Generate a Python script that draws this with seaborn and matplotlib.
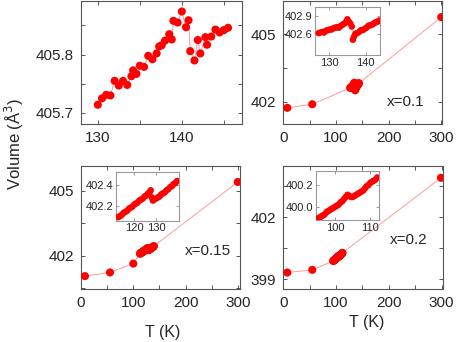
import matplotlib
matplotlib.use('Agg')
import matplotlib.pyplot as plt
import seaborn as sns
import numpy as np
from matplotlib.ticker import MultipleLocator, FixedLocator, FormatStrFormatter

# --- datos ---
# panel superior izquierdo (zoom 130-146 K)
t_x0 = [130.0, 130.5, 131.0, 131.5, 132.0, 132.5, 133.0, 133.5, 134.0, 134.2,
        134.6, 135.0, 135.5, 136.0, 136.5, 137.0, 137.3, 137.6, 138.0, 138.5,
        138.8, 139.0, 139.5, 140.0, 140.5, 140.8, 141.0, 141.5, 141.9, 142.2,
        142.8, 143.0, 143.5, 144.0, 144.5, 145.0, 145.5]
v_x0 = [405.714, 405.725, 405.731, 405.730, 405.755, 405.747, 405.755, 405.748,
        405.763, 405.773, 405.767, 405.781, 405.779, 405.798, 405.792, 405.802,
        405.814, 405.816, 405.824, 405.835, 405.826, 405.858, 405.855, 405.874,
        405.847, 405.859, 405.806, 405.790, 405.825, 405.802, 405.830, 405.817,
        405.831, 405.843, 405.838, 405.842, 405.846]

# x=0.1
t_01_ins = [127.2, 127.7, 128.2, 128.7, 129.2, 129.7, 130.2, 130.7, 131.2, 131.7,
            132.2, 132.7, 133.2, 133.7, 134.2, 134.7, 135.0, 135.4, 135.8, 136.2,
            136.5, 136.8, 137.2, 137.7, 138.2, 138.7, 139.2, 139.7, 140.2, 140.7,
            141.2, 141.7, 142.2, 142.7, 143.2, 143.7]
v_01_ins = [402.61, 402.62, 402.63, 402.62, 402.65, 402.66, 402.67, 402.67, 402.69, 402.70,
            402.71, 402.70, 402.73, 402.75, 402.77, 402.80, 402.84, 402.80, 402.77, 402.72,
            402.50, 402.55, 402.60, 402.61, 402.63, 402.66, 402.66, 402.68, 402.70, 402.73,
            402.74, 402.75, 402.77, 402.79, 402.80, 402.82]
t_01_low, v_01_low = [7.6, 55.0], [401.72, 401.88]
t_01_rt, v_01_rt = [300.0], [405.76]

# x=0.15
t_015_ins = [112.7, 113.4, 114.2, 115.0, 115.8, 116.6, 117.4, 118.2, 119.0, 119.8,
             120.6, 121.4, 122.2, 123.0, 123.8, 124.6, 125.4, 126.2, 126.9, 127.4,
             127.9, 128.4, 129.0, 129.8, 130.6, 131.4, 132.2, 133.0, 133.8, 134.6,
             135.4, 136.2, 137.0, 137.8, 138.6, 139.4]
v_015_ins = [402.09, 402.10, 402.11, 402.13, 402.14, 402.15, 402.17, 402.18, 402.19, 402.21,
             402.22, 402.23, 402.25, 402.26, 402.27, 402.29, 402.30, 402.32, 402.33, 402.35,
             402.28, 402.25, 402.26, 402.27, 402.28, 402.29, 402.31, 402.32, 402.33, 402.35,
             402.36, 402.38, 402.39, 402.41, 402.42, 402.44]
t_015_low, v_015_low = [7.6, 55.4, 100.0], [401.05, 401.22, 401.63]
t_015_rt, v_015_rt = [299.6], [405.41]

# x=0.2
t_02_ins = [94.6, 95.1, 95.6, 96.1, 96.6, 97.1, 97.6, 98.1, 98.6, 99.1,
            99.6, 100.1, 100.6, 101.1, 101.6, 102.1, 102.6, 103.1, 103.6, 104.1,
            104.6, 105.1, 105.6, 106.1, 106.6, 107.1, 107.6, 108.1, 108.6, 109.1,
            109.6, 110.1, 110.6, 111.1, 111.6, 112.1]
v_02_ins = [399.88, 399.89, 399.90, 399.91, 399.92, 399.93, 399.95, 399.96, 399.97, 399.98,
            399.99, 400.00, 400.01, 400.02, 400.04, 400.05, 400.07, 400.09, 400.11, 400.10,
            400.09, 400.09, 400.10, 400.11, 400.12, 400.13, 400.14, 400.15, 400.17, 400.19,
            400.20, 400.22, 400.23, 400.24, 400.25, 400.27]
t_02_low, v_02_low = [7.6, 55.0], [399.32, 399.45]
t_02_rt, v_02_rt = [298.7], [403.90]

sns.set_style('ticks')
plt.rcParams['font.family'] = ['Liberation Sans', 'DejaVu Sans']

W, H = 458, 342
fig = plt.figure(figsize=(W / 100, H / 100), dpi=100)


def caja(x0, y0, x1, y1):
    # pixeles -> coordenadas de figura
    return [x0 / W, 1 - y1 / H, (x1 - x0) / W, (y1 - y0) / H]


ROJO = '#ff0000'
LINEA = '#ff9a9a'
GRIS = '#555555'


def dibujar(ax, t, v, s, lw=0.7):
    sns.lineplot(x=t, y=v, ax=ax, color=LINEA, lw=lw, sort=False, estimator=None)
    sns.scatterplot(x=t, y=v, ax=ax, color=ROJO, s=s, edgecolor='none', zorder=3)


def estilo(ax, fs, pad, color, length=3):
    ax.tick_params(which='both', direction='in', top=True, right=True,
                   length=length, width=0.7, color=color, labelsize=fs, pad=pad)
    for sp in ax.spines.values():
        sp.set_color(color)
        sp.set_linewidth(0.8)
    ax.set_xlabel('')
    ax.set_ylabel('')


# panel superior izquierdo
ax1 = fig.add_axes(caja(81, 1, 241.5, 124))
dibujar(ax1, t_x0, v_x0, 34)
ax1.set_xlim(128.0, 147.1)
ax1.set_ylim(405.681, 405.892)
ax1.xaxis.set_major_locator(MultipleLocator(10))
ax1.xaxis.set_minor_locator(MultipleLocator(5))
ax1.yaxis.set_major_locator(MultipleLocator(0.1))
ax1.yaxis.set_minor_locator(MultipleLocator(0.05))
ax1.yaxis.set_major_formatter(FormatStrFormatter('%.1f'))
estilo(ax1, 11, 5, GRIS)

paneles = [
    (caja(283.3, 1, 442.3, 124), (0, 302), (401.0, 406.48), 'x=0.1',
     t_01_low + t_01_ins + t_01_rt, v_01_low + v_01_ins + v_01_rt,
     caja(315, 7.3, 379.7, 55), t_01_ins, v_01_ins, (126.2, 143.8), (402.245, 403.04),
     [402.6, 402.9], [130, 140], (405.7, 101.7)),
    (caja(81, 166, 239.5, 289.3), (0, 303), (400.44, 406.15), 'x=0.15',
     t_015_low + t_015_ins + t_015_rt, v_015_low + v_015_ins + v_015_rt,
     caja(116, 171.7, 179.3, 220.7), t_015_ins, v_015_ins, (111.6, 140.4), (402.055, 402.53),
     [402.2, 402.4], [120, 130], (208.3, 251)),
    (caja(283.3, 166, 443, 289.3), (0, 302.5), (398.51, 404.47), 'x=0.2',
     t_02_low + t_02_ins + t_02_rt, v_02_low + v_02_ins + v_02_rt,
     caja(315.7, 171, 379.3, 220), t_02_ins, v_02_ins, (94.5, 112.7), (399.877, 400.33),
     [400.0, 400.2], [100, 110], (408.7, 240)),
]

for (pos, xl, yl, etiqueta, t, v, ipos, ti, vi, ixl, iyl, iyt, ixt, txt) in paneles:
    ax = fig.add_axes(pos)
    dibujar(ax, t, v, 34)
    ax.set_xlim(*xl)
    ax.set_ylim(*yl)
    ax.xaxis.set_major_locator(MultipleLocator(100))
    ax.xaxis.set_minor_locator(MultipleLocator(50))
    ax.yaxis.set_major_locator(MultipleLocator(3))
    ax.yaxis.set_minor_locator(MultipleLocator(1.5))
    estilo(ax, 11, 5, GRIS)
    fig.text(txt[0] / W, 1 - txt[1] / H, etiqueta, fontsize=11,
             ha='center', va='center')

    axi = fig.add_axes(ipos)
    dibujar(axi, ti, vi, 22, lw=0.5)
    axi.set_xlim(*ixl)
    axi.set_ylim(*iyl)
    axi.xaxis.set_major_locator(FixedLocator(ixt))
    axi.yaxis.set_major_locator(FixedLocator(iyt))
    axi.yaxis.set_major_formatter(FormatStrFormatter('%.1f'))
    estilo(axi, 8, 2, '#999999', length=2)

fig.text(14 / W, 1 - 144 / H, 'Volume (Å$^3$)', rotation=90, fontsize=12,
         ha='center', va='center')
fig.text(163 / W, 1 - 333 / H, 'T (K)', fontsize=11.5, ha='center', va='center')
fig.text(367 / W, 1 - 322.5 / H, 'T (K)', fontsize=11.5, ha='center', va='center')

fig.savefig('out.png', dpi=100)
